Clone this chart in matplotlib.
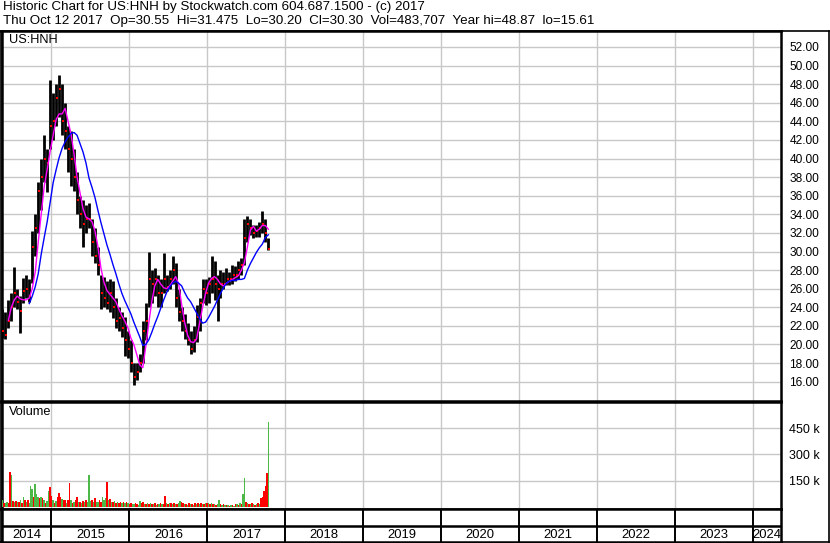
import numpy as np
import pandas as pd
import matplotlib
matplotlib.use("Agg")
from matplotlib import pyplot as plt

plt.rcParams['font.family'] = ['Liberation Sans', 'DejaVu Sans']

W, H = 830, 543

# bi-weekly price bars
bar_high = [23.8, 23.5, 24.8, 25.5, 28.3, 26.0, 25.2, 27.2, 27.5, 27.0,
            32.2, 34.0, 37.5, 40.0, 42.5, 41.0, 48.5, 47.0, 48.0, 49.0,
            48.0, 46.0, 43.5, 43.0, 41.0, 38.5, 36.0, 35.5, 35.0, 35.2,
            33.5, 32.5, 30.5, 27.5, 27.3, 26.8, 27.0, 26.8, 25.0, 24.0,
            23.5, 23.0, 21.5, 20.5, 18.0, 18.0, 19.0, 22.5, 24.5, 30.0,
            28.0, 28.2, 27.5, 27.0, 29.8, 27.5, 28.0, 29.5, 28.8, 26.0,
            24.0, 23.3, 22.3, 21.5, 22.0, 24.3, 25.0, 27.0, 27.0, 27.3,
            29.5, 29.0, 27.5, 28.0, 27.8, 28.2, 27.8, 28.5, 28.4, 29.0,
            29.3, 33.5, 33.8, 33.5, 32.8, 32.8, 33.2, 34.4, 33.5, 31.5]
bar_low = [20.7, 20.6, 21.8, 22.5, 24.0, 23.8, 21.2, 24.5, 25.0, 24.6,
           26.6, 29.5, 32.0, 34.5, 37.5, 36.4, 41.0, 42.0, 43.5, 44.5,
           42.5, 41.0, 38.5, 37.0, 36.5, 34.0, 32.5, 30.5, 32.0, 32.5,
           29.5, 28.8, 27.5, 23.8, 24.0, 23.8, 23.5, 22.8, 21.8, 21.5,
           20.8, 18.8, 18.5, 17.0, 15.6, 16.2, 17.0, 18.0, 20.5, 24.0,
           24.5, 25.2, 24.0, 24.0, 25.5, 25.8, 26.0, 26.5, 24.0, 22.5,
           21.5, 20.6, 19.9, 19.0, 19.2, 20.3, 21.5, 24.5, 24.2, 24.5,
           25.5, 24.8, 22.5, 25.0, 26.0, 26.4, 26.4, 26.5, 26.8, 27.0,
           27.5, 28.5, 31.0, 31.8, 31.5, 31.6, 31.6, 32.0, 31.0, 30.2]
bar_close = [21.5, 21.0, 22.5, 24.0, 25.5, 24.6, 23.6, 25.8, 26.0, 25.2,
             30.5, 32.5, 36.5, 38.0, 40.0, 39.5, 43.5, 44.0, 46.5, 47.5,
             44.0, 43.0, 41.0, 40.0, 38.0, 35.5, 34.0, 33.0, 33.5, 33.5,
             31.0, 29.5, 28.5, 25.5, 25.0, 24.5, 25.5, 24.0, 22.5, 22.8,
             21.8, 20.5, 19.5, 18.0, 16.5, 17.0, 18.0, 21.5, 22.5, 27.0,
             26.5, 27.0, 25.5, 25.5, 27.0, 26.2, 27.0, 28.0, 25.0, 23.5,
             22.5, 21.5, 20.5, 19.5, 20.5, 23.0, 24.5, 26.0, 25.5, 26.5,
             27.0, 26.5, 26.0, 26.5, 26.5, 27.0, 27.0, 27.5, 27.5, 28.0,
             28.5, 31.5, 33.0, 32.5, 32.0, 32.2, 32.5, 33.0, 32.0, 30.3]

# moving averages as drawn (short = magenta, long = blue)
ma_short = [np.nan, np.nan, 22.6, 24.0, 24.8, 25.2, 24.9, 24.8, 24.8, 25.0,
            26.0, 27.8, 31.0, 34.0, 37.0, 38.8, 40.8, 42.5, 44.2, 44.8,
            44.8, 45.4, 44.0, 42.6, 40.5, 38.0, 36.3, 34.6, 33.7, 33.5,
            33.2, 32.2, 30.5, 28.2, 26.7, 25.8, 25.4, 25.0, 24.6, 23.8,
            23.1, 22.5, 21.8, 20.7, 20.0, 18.9, 17.8, 17.5, 19.8, 22.3,
            24.6, 26.3, 27.0, 26.5, 26.1, 26.0, 26.3, 26.8, 27.3, 26.5,
            24.3, 22.4, 21.0, 20.3, 20.2, 20.6, 22.3, 24.0, 25.5, 26.6,
            27.1, 27.3, 27.0, 26.5, 26.3, 26.6, 26.8, 27.0, 27.2, 27.4,
            28.0, 28.8, 30.5, 32.3, 32.7, 32.2, 32.4, 32.8, 32.8, 32.4]
ma_long = [np.nan] * 9 + [
    24.4, 25.2, 26.2, 27.6, 29.7, 31.5, 33.2, 35.3, 37.4, 38.8, 40.1,
    41.1, 41.8, 42.3, 42.7, 42.8, 42.5, 41.6, 40.7, 39.5, 37.9,
    36.9, 35.8, 34.4, 33.1, 31.9, 30.7, 29.7, 28.6, 27.6, 26.5,
    25.5, 24.7, 24.0, 23.3, 22.4, 21.6, 20.8, 19.9, 20.0, 20.5,
    21.3, 22.2, 23.0, 23.9, 24.8, 25.6, 26.2, 26.6, 26.8, 26.6,
    26.3, 25.6, 25.0, 24.6, 24.0, 23.4, 22.8, 22.3, 22.4, 22.9,
    23.5, 24.1, 24.8, 25.5, 26.1, 26.6, 26.8, 26.9, 26.9, 27.0,
    27.0, 27.1, 28.0, 28.7, 29.3, 29.9, 30.4, 30.8, 31.5, 31.8]

# weekly volume in thousands, g = up, r = down
vol_k = [41, 22, 24, 29, 25, 202, 181, 34, 30, 34,
         28, 30, 40, 25, 59, 38, 30, 38, 25, 119,
         102, 55, 133, 72, 59, 52, 55, 50, 38, 20,
         35, 90, 114, 64, 38, 20, 35, 55, 78, 55,
         45, 40, 38, 25, 38, 138, 40, 25, 30, 40,
         59, 30, 30, 25, 35, 28, 40, 30, 181, 35,
         38, 30, 50, 30, 28, 38, 30, 55, 40, 50,
         145, 40, 45, 30, 28, 32, 25, 30, 20, 28,
         25, 30, 22, 30, 20, 17, 20, 15, 18, 25,
         15, 12, 36, 20, 28, 15, 18, 22, 15, 20,
         18, 15, 20, 12, 18, 15, 20, 14, 18, 62,
         20, 15, 20, 22, 15, 20, 18, 15, 20, 35,
         26, 20, 15, 18, 12, 20, 15, 18, 12, 20,
         18, 22, 15, 20, 18, 16, 20, 22, 20, 15,
         22, 18, 15, 12, 15, 41, 14, 12, 15, 10,
         12, 10, 8, 12, 10, 8, 15, 18, 12, 20,
         15, 72, 165, 30, 20, 15, 18, 20, 15, 12,
         18, 20, 15, 50, 55, 90, 119, 193, 484]
vol_dir = ("grggrrgrgr" "grgrgrgrgg" "grgggrgrgr" "ggrrgrgrrr"
           "grrgrrgrgr" "rgrgrgrggg" "rgrggrrgg" "g"
           "rgrgrgrgrr" "grgrgrrggr" "rggrrgrgrg"
           "rgrgrgrgrr" "grgrgrgrgg" "rrgrgrgrgr"
           "grgrgrgrgr" "grgrggrgrg" "rgrgrgrgrg"
           "rggrgrgrgr" "grgrrrrrg")

years = list(range(2014, 2025))

bar_dates = pd.date_range(end='2017-10-13', periods=len(bar_high), freq='14D')
vol_dates = pd.date_range(end='2017-10-13', periods=len(vol_k), freq='7D')
x_lo, x_hi = pd.Timestamp('2014-05-12'), pd.Timestamp('2024-05-11')
year_starts = [pd.Timestamp(f'{y}-01-01') for y in years[1:]]

FS = 8.6
HEAD_FS = 9.6
GRID = '#c8c8c8'


def px_rect(left, top, right, bottom):
    return [left / W, 1 - bottom / H, (right - left) / W, (bottom - top) / H]


def frame(ax, lw=1.8):
    for s in ax.spines.values():
        s.set_color('black')
        s.set_linewidth(lw)


fig = plt.figure(figsize=(W / 100, H / 100), dpi=100)

# outer frame
back = fig.add_axes(px_rect(0.5, 31, 828.5, 542))
back.set_xticks([])
back.set_yticks([])
frame(back, 1.2)

# price panel
ax = fig.add_axes(px_rect(1.5, 31, 781, 401))
ax.vlines(bar_dates, bar_low, bar_high, color='black', linewidth=2.0, zorder=3)
ax.plot(bar_dates + pd.Timedelta(days=5), bar_close, 's', color='red',
        markersize=1.6, markeredgewidth=0, zorder=4)
ax.plot(bar_dates, ma_short, color='#ff00ff', linewidth=1.0, zorder=5)
ax.plot(bar_dates, ma_long, color='#0000ff', linewidth=1.0, zorder=5)
ax.set_xlim(x_lo, x_hi)
ax.set_ylim(13.92, 53.72)
ax.set_xticks(year_starts)
ax.set_xticklabels([])
ticks = np.arange(16, 53, 2)
ax.set_yticks(ticks)
ax.set_yticklabels([f'{t:.2f}' for t in ticks])
ax.yaxis.tick_right()
ax.tick_params(axis='both', length=0, labelsize=FS, pad=6)
ax.grid(True, color=GRID, linewidth=1.0)
ax.set_axisbelow(True)
frame(ax)
fig.text(9 / W, 1 - 34 / H, 'US:HNH', fontsize=HEAD_FS - 0.4, va='top')

# volume panel
vax = fig.add_axes(px_rect(1.5, 402, 781, 509))
vcolors = ['#4cb848' if c == 'g' else '#ff0000' for c in vol_dir]
vax.bar(vol_dates, vol_k, width=7, color=vcolors, linewidth=0, zorder=3)
vax.set_xlim(x_lo, x_hi)
vax.set_ylim(-12, 600)
vax.set_xticks(year_starts)
vax.set_xticklabels([])
vax.set_yticks([150, 300, 450])
vax.set_yticklabels(['150 k', '300 k', '450 k'])
vax.yaxis.tick_right()
vax.tick_params(axis='both', length=0, labelsize=FS + 0.4, pad=6)
vax.grid(True, color=GRID, linewidth=1.0)
vax.set_axisbelow(True)
frame(vax)
fig.text(9 / W, 1 - 406 / H, 'Volume', fontsize=HEAD_FS - 0.4, va='top')

# year strip
yax = fig.add_axes(px_rect(1.5, 509, 781, 542))
yax.set_xlim(x_lo, x_hi)
yax.set_ylim(0, 2)
yax.axhline(1, color='black', linewidth=1.8)
yax.vlines(year_starts, 0, 2, color='black', linewidth=1.4)
edges = [x_lo] + year_starts + [x_hi]
for y, a, b in zip(years, edges[:-1], edges[1:]):
    yax.text(a + (b - a) / 2, 0.45, str(y), ha='center', va='center',
             fontsize=HEAD_FS - 0.2)
yax.set_xticks([])
yax.set_yticks([])
frame(yax)

fig.text(3 / W, 1 - 1 / H,
         'Historic Chart for US:HNH by Stockwatch.com 604.687.1500 - (c) 2017',
         fontsize=HEAD_FS, va='top')
fig.text(3 / W, 1 - 15 / H,
         'Thu Oct 12 2017  Op=30.55  Hi=31.475  Lo=30.20  Cl=30.30  '
         'Vol=483,707  Year hi=48.87  lo=15.61',
         fontsize=HEAD_FS, va='top')

fig.savefig('out.png', dpi=100)
